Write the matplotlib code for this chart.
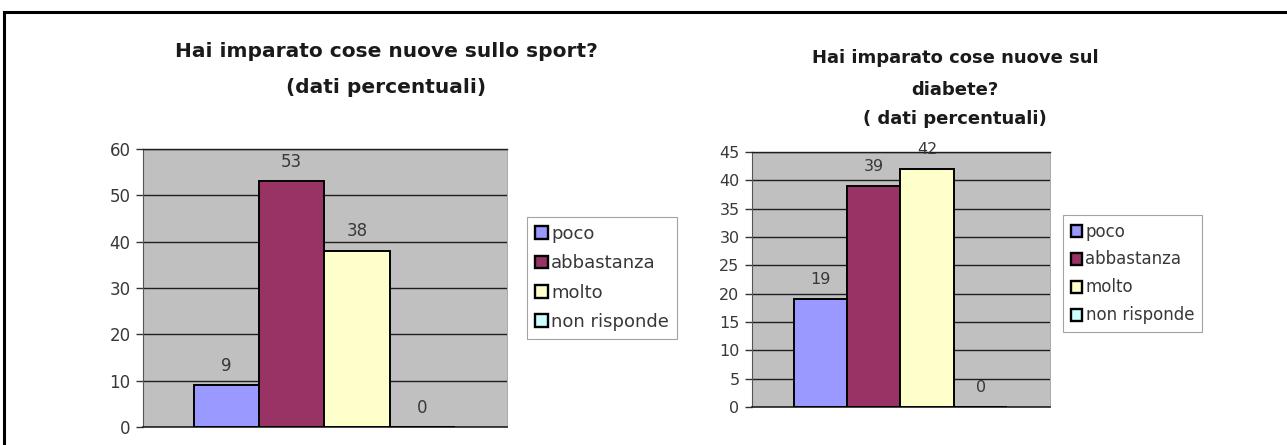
"""
Two Excel-style bar charts side by side: percentages of answers to
"Hai imparato cose nuove ...?" for sport and for diabetes.
"""
import matplotlib
matplotlib.use("Agg")
import matplotlib.pyplot as plt
from matplotlib.patches import Rectangle


# DATA
# Answer categories (legend entries) and their Excel palette colours
RISPOSTE = ["poco", "abbastanza", "molto", "non risponde"]
COLORI = ["#9999FF", "#993366", "#FFFFCC", "#CCFFFF"]

# Percentages
SPORT_VALORI = [9, 53, 38, 0]
DIABETE_VALORI = [19, 39, 42, 0]

# Y axis ticks
SPORT_TICKS = [0, 10, 20, 30, 40, 50, 60]
DIABETE_TICKS = [0, 5, 10, 15, 20, 25, 30, 35, 40, 45]

# Titles, one entry per line
SPORT_TITOLO = ["Hai imparato cose nuove sullo sport?", "(dati percentuali)"]
DIABETE_TITOLO = ["Hai imparato cose nuove sul", "diabete?", "( dati percentuali)"]


W, H = 1287, 445
TEXT_COL = "#383838"
GRID_COL = "#1e1e1e"


def fx(px):
	return px / W


def fy(py):
	# pixel row (from top) -> figure fraction
	return 1 - py / H


"""
Function:    draw_chart
Description: Draws one bar chart (axes, bars, value labels, title lines
             and legend) at the given pixel box of the figure.
"""
def draw_chart(fig, box, valori, ticks, titolo, title_x, title_y, title_size,
	       legend_xy, legend_size, legend_spacing, tick_size):
	left, top, right, bottom = box
	ax = fig.add_axes([fx(left), fy(bottom), fx(right - left), (bottom - top) / H])
	ax.set_facecolor("#C0C0C0")

	# One category, four bars side by side
	xs = list(range(len(valori)))
	bars = ax.bar(xs, valori, width=1.0, color=COLORI, edgecolor="black",
		      linewidth=1.4, label=RISPOSTE, zorder=3)

	for x, v in zip(xs, valori):
		ax.annotate(str(v), xy=(x, v), xytext=(0, 14), textcoords="offset points",
			    ha="center", va="center", fontsize=tick_size, color=TEXT_COL)

	ax.set_xlim(-1.28, 4.3)
	ax.set_ylim(ticks[0], ticks[-1])
	ax.set_yticks(ticks)
	ax.set_xticks([])
	ax.yaxis.grid(True, color=GRID_COL, linewidth=1.0, zorder=1)
	ax.set_axisbelow(True)
	ax.tick_params(axis="y", length=5, width=1, color="#333333", pad=4,
		       labelsize=tick_size, labelcolor=TEXT_COL)

	ax.spines["top"].set_color(GRID_COL)
	ax.spines["top"].set_linewidth(1.0)
	ax.spines["right"].set_color("#9a9a9a")
	ax.spines["right"].set_linewidth(0.6)
	ax.spines["left"].set_color("#555555")
	ax.spines["bottom"].set_color("#222222")
	ax.spines["bottom"].set_linewidth(1.2)

	# Title lines (baselines in pixels)
	for line, ty in zip(titolo, title_y):
		fig.text(fx(title_x), fy(ty), line, ha="center", va="baseline",
			 fontsize=title_size, fontweight="bold", color="#1a1a1a")

	leg = ax.legend(handles=bars, labels=RISPOSTE, loc="upper left",
			bbox_to_anchor=(fx(legend_xy[0]), fy(legend_xy[1])),
			bbox_transform=fig.transFigure, fontsize=legend_size,
			frameon=True, fancybox=False, edgecolor="#8c8c8c",
			handlelength=0.7, handleheight=0.7, handletextpad=0.2,
			labelspacing=legend_spacing, borderpad=0.45, borderaxespad=0)
	leg.get_frame().set_linewidth(0.8)
	for h in leg.legend_handles:
		h.set_linewidth(1.7)
	for t in leg.get_texts():
		t.set_color(TEXT_COL)
	return ax


# MAIN FUNCTION
def main():
	fig = plt.figure(figsize=(W / 100, H / 100), dpi=100)
	fig.patch.set_facecolor("white")

	# Left chart: sport
	draw_chart(fig, (143, 149, 507, 427), SPORT_VALORI, SPORT_TICKS,
		   SPORT_TITOLO, 386, [57, 93], 14.5,
		   (527, 217), 13, 0.62, 12)

	# Right chart: diabetes
	draw_chart(fig, (752, 152, 1050, 407), DIABETE_VALORI, DIABETE_TICKS,
		   DIABETE_TITOLO, 955, [63, 95, 124], 13,
		   (1063, 215), 12, 0.6, 11.5)

	# Outer frame of the page (only top and left edges fall inside the picture)
	frame = Rectangle((fx(4), -0.2), 1.5, fy(12) + 0.2, transform=fig.transFigure,
			  fill=False, edgecolor="black", linewidth=2.2, clip_on=False)
	fig.patches.append(frame)

	plt.savefig("out.png", dpi=100)


if __name__ == "__main__":
    main()
